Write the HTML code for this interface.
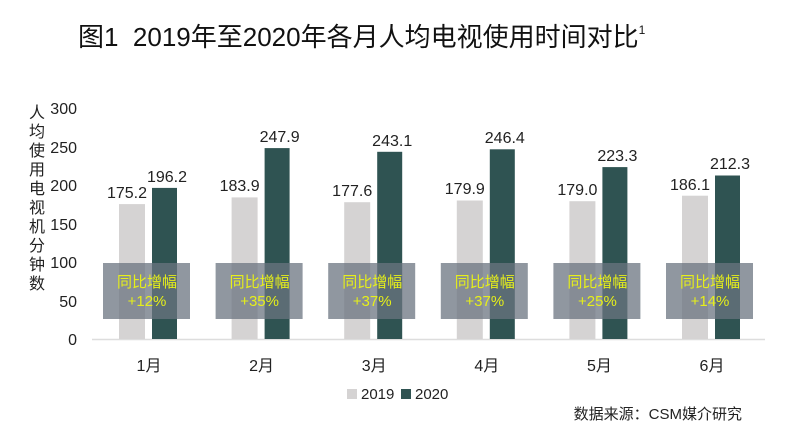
<!DOCTYPE html>
<html><head><meta charset="utf-8"><style>
body{margin:0;background:#fff;width:800px;height:438px;overflow:hidden;}
</style></head><body>
<svg width="800" height="438" xmlns="http://www.w3.org/2000/svg" font-family="Liberation Sans, Noto Sans CJK SC, sans-serif">
<text x="78" y="46" font-size="26" fill="#111">图1&#160;&#160;2019年至2020年各月人均电视使用时间对比<tspan font-size="12" dy="-12">1</tspan></text>
<g font-size="16" fill="#222" text-anchor="middle">
<text x="37" y="118">人</text><text x="37" y="137">均</text><text x="37" y="156">使</text><text x="37" y="175">用</text><text x="37" y="194">电</text><text x="37" y="213">视</text><text x="37" y="232">机</text><text x="37" y="251">分</text><text x="37" y="270">钟</text><text x="37" y="289">数</text>
</g>
<g font-size="16" fill="#222" text-anchor="end">
<text x="77" y="114">300</text><text x="77" y="153">250</text><text x="77" y="191">200</text><text x="77" y="230">150</text><text x="77" y="268">100</text><text x="77" y="307">50</text><text x="77" y="345">0</text>
</g>
<line x1="92" y1="339.5" x2="765" y2="339.5" stroke="#ddd" stroke-width="1.5"/>

<g fill="#d5d3d3">
<rect x="119" y="204.1" width="26" height="134.9"/>
<rect x="231.6" y="197.4" width="26" height="141.6"/>
<rect x="344.2" y="202.2" width="26" height="136.8"/>
<rect x="456.8" y="200.5" width="26" height="138.5"/>
<rect x="569.4" y="201.2" width="26" height="137.8"/>
<rect x="682" y="195.7" width="26" height="143.3"/>
</g>
<g fill="#2f5352">
<rect x="152" y="187.9" width="25" height="151.1"/>
<rect x="264.6" y="148.1" width="25" height="190.9"/>
<rect x="377.2" y="151.8" width="25" height="187.2"/>
<rect x="489.8" y="149.3" width="25" height="189.7"/>
<rect x="602.4" y="167.1" width="25" height="171.9"/>
<rect x="715" y="175.5" width="25" height="163.5"/>
</g>
<g font-size="16" fill="#222" text-anchor="middle">
<text x="127" y="198">175.2</text><text x="167" y="182">196.2</text>
<text x="239.6" y="191">183.9</text><text x="279.6" y="142">247.9</text>
<text x="352.2" y="196">177.6</text><text x="392.2" y="146">243.1</text>
<text x="464.8" y="194">179.9</text><text x="504.8" y="143">246.4</text>
<text x="577.4" y="195">179.0</text><text x="617.4" y="161">223.3</text>
<text x="690" y="190">186.1</text><text x="730" y="169">212.3</text>
</g>
<g fill="#6b7480" fill-opacity="0.75">
<rect x="103" y="263" width="87" height="56"/>
<rect x="215.6" y="263" width="87" height="56"/>
<rect x="328.2" y="263" width="87" height="56"/>
<rect x="440.8" y="263" width="87" height="56"/>
<rect x="553.4" y="263" width="87" height="56"/>
<rect x="666" y="263" width="87" height="56"/>
</g>
<g font-size="15" fill="#e6ef1a" text-anchor="middle">
<text x="147" y="287">同比增幅</text><text x="147" y="306">+12%</text>
<text x="259.6" y="287">同比增幅</text><text x="259.6" y="306">+35%</text>
<text x="372.2" y="287">同比增幅</text><text x="372.2" y="306">+37%</text>
<text x="484.8" y="287">同比增幅</text><text x="484.8" y="306">+37%</text>
<text x="597.4" y="287">同比增幅</text><text x="597.4" y="306">+25%</text>
<text x="710" y="287">同比增幅</text><text x="710" y="306">+14%</text>
</g>
<g font-size="16" fill="#222" text-anchor="middle">
<text x="149" y="371">1月</text><text x="261.6" y="371">2月</text><text x="374.2" y="371">3月</text><text x="486.8" y="371">4月</text><text x="599.4" y="371">5月</text><text x="712" y="371">6月</text>
</g>
<rect x="347" y="389" width="10" height="10" fill="#d5d3d3"/><text x="361" y="399" font-size="15" fill="#222">2019</text>
<rect x="401" y="389" width="10" height="10" fill="#2f5352"/><text x="415" y="399" font-size="15" fill="#222">2020</text>
<text x="742" y="419" font-size="15" fill="#222" text-anchor="end">数据来源：CSM媒介研究</text>
</svg>
</body></html>
